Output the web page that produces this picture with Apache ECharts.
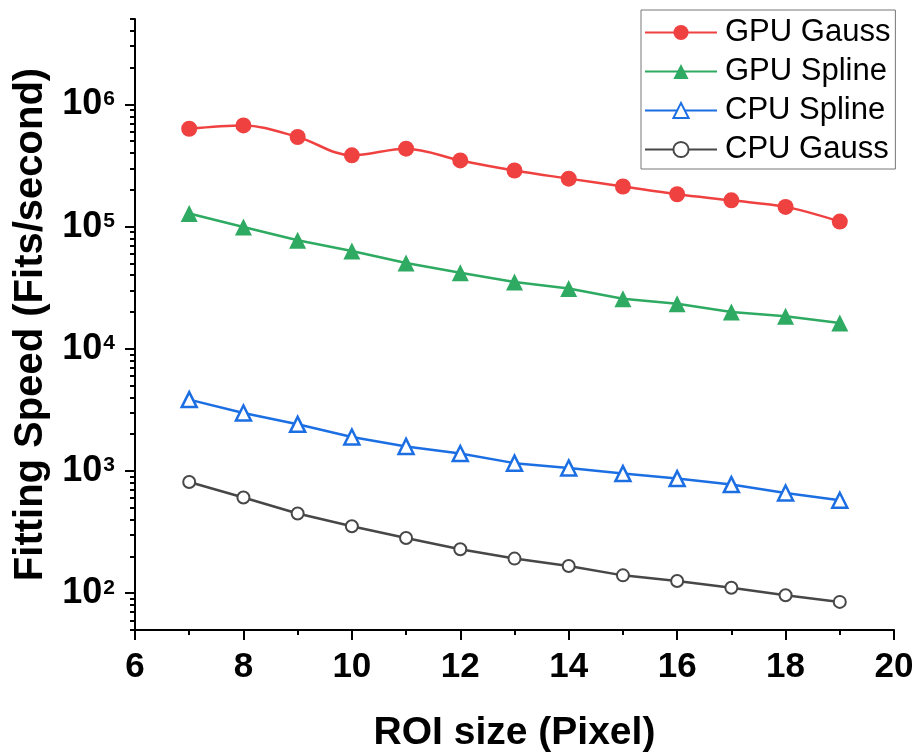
<!DOCTYPE html>
<html>
<head>
<meta charset="utf-8">
<script src="https://cdn.jsdelivr.net/npm/echarts@6/dist/echarts.min.js"></script>
<style>
  html, body { margin: 0; padding: 0; background: #fff; }
  #chart { width: 918px; height: 754px; }
</style>
</head>
<body>
<div id="chart"></div>
<script>
// ROI size (pixel)
const roiSize = [7, 8, 9, 10, 11, 12, 13, 14, 15, 16, 17, 18, 19];

// fitting speed, fits per second
const gpuGauss = [632000, 673000, 541000, 383000, 434000, 348000, 288000, 247000, 213000, 184000, 164000, 145000, 110000];
const gpuSpline = [128000, 99300, 77300, 63100, 50400, 42000, 35200, 31100, 25700, 23400, 20000, 18500, 16300];
const cpuSpline = [3840, 2980, 2410, 1900, 1590, 1390, 1160, 1060, 953, 867, 774, 661, 577];
const cpuGauss = [813, 607, 449, 353, 283, 229, 192, 167, 140, 126, 111, 96.3, 84.9];

// y axis ticks
const majorTicks = [1e2, 1e3, 1e4, 1e5, 1e6];
const minorTicks = [50, 60, 70, 80, 90,
  200, 300, 400, 500, 600, 700, 800, 900,
  2e3, 3e3, 4e3, 5e3, 6e3, 7e3, 8e3, 9e3,
  2e4, 3e4, 4e4, 5e4, 6e4, 7e4, 8e4, 9e4,
  2e5, 3e5, 4e5, 5e5, 6e5, 7e5, 8e5, 9e5,
  2e6, 3e6, 4e6, 5e6];

const FONT = '"Liberation Sans", Arial, sans-serif';

function pairs(ys) {
  return roiSize.map(function (x, i) { return [x, ys[i]]; });
}

const chart = echarts.init(document.getElementById('chart'));
chart.setOption({
  backgroundColor: '#fff',
  animation: false,
  grid: {
    left: 135, right: 24, top: 19, bottom: 124,
    containLabel: false,
    outerBoundsMode: 'none'
  },
  legend: {
    orient: 'vertical',
    left: 641,
    top: 10,
    padding: [7, 5, 4, 3],
    itemWidth: 72,
    itemHeight: 19,
    itemGap: 8,
    borderColor: '#777',
    borderWidth: 1,
    textStyle: {
      fontFamily: FONT,
      fontSize: 31,
      lineHeight: 30,
      color: '#000',
      padding: [0, 0, 0, 3]
    },
    data: ['GPU Gauss', 'GPU Spline', 'CPU Spline', 'CPU Gauss']
  },
  xAxis: {
    type: 'value',
    min: 6,
    max: 20,
    interval: 2,
    name: 'ROI size (Pixel)',
    nameLocation: 'middle',
    nameGap: 84,
    nameTextStyle: { fontFamily: FONT, fontSize: 39, fontWeight: 'bold', color: '#000' },
    axisLine: { lineStyle: { color: '#000', width: 2 } },
    axisTick: { inside: false, length: 10, lineStyle: { color: '#000', width: 2 } },
    minorTick: { show: true, splitNumber: 2, length: 5, lineStyle: { color: '#000', width: 2 } },
    axisLabel: { fontFamily: FONT, fontSize: 35, fontWeight: 'bold', color: '#000', margin: 20 },
    splitLine: { show: false },
    minorSplitLine: { show: false }
  },
  yAxis: [
    {
      type: 'log',
      logBase: 10,
      min: 50,
      max: 5e6,
      name: 'Fitting Speed (Fits/second)',
      nameLocation: 'middle',
      nameRotate: 90,
      nameGap: 80,
      nameTextStyle: { fontFamily: FONT, fontSize: 40, fontWeight: 'bold', color: '#000' },
      axisLine: { show: true, lineStyle: { color: '#000', width: 2 } },
      axisTick: { show: true, inside: false, length: 10, customValues: majorTicks, lineStyle: { color: '#000', width: 2 } },
      axisLabel: {
        show: true,
        customValues: majorTicks,
        margin: 20,
        color: '#000',
        formatter: function (v) {
          return '{b|10}{s|' + Math.round(Math.log10(v)) + '}';
        },
        rich: {
          b: { fontFamily: FONT, fontSize: 36, fontWeight: 'bold', color: '#000', lineHeight: 40 },
          s: { fontFamily: FONT, fontSize: 21, fontWeight: 'bold', color: '#000', verticalAlign: 'top', lineHeight: 21, padding: [4, 0, 0, 1] }
        }
      },
      splitLine: { show: false }
    },
    {
      type: 'log',
      logBase: 10,
      min: 50,
      max: 5e6,
      position: 'left',
      axisLine: { show: false },
      axisTick: { show: true, inside: false, length: 5, customValues: minorTicks, lineStyle: { color: '#000', width: 2 } },
      axisLabel: { show: false },
      splitLine: { show: false }
    }
  ],
  series: [
    {
      name: 'GPU Gauss',
      type: 'line',
      yAxisIndex: 0,
      data: pairs(gpuGauss),
      smooth: 0.35,
      symbol: 'circle',
      symbolSize: 16,
      lineStyle: { color: '#F04141', width: 2.5 },
      itemStyle: { color: '#F04141' }
    },
    {
      name: 'GPU Spline',
      type: 'line',
      yAxisIndex: 0,
      data: pairs(gpuSpline),
      symbol: 'triangle',
      symbolSize: 17,
      lineStyle: { color: '#2EAA62', width: 2.5 },
      itemStyle: { color: '#2EAA62' }
    },
    {
      name: 'CPU Spline',
      type: 'line',
      yAxisIndex: 0,
      data: pairs(cpuSpline),
      symbol: 'triangle',
      symbolSize: 15,
      lineStyle: { color: '#1C6FE3', width: 2.5 },
      itemStyle: { color: '#fff', borderColor: '#1C6FE3', borderWidth: 2.5 }
    },
    {
      name: 'CPU Gauss',
      type: 'line',
      yAxisIndex: 0,
      data: pairs(cpuGauss),
      symbol: 'circle',
      symbolSize: 12,
      lineStyle: { color: '#474747', width: 2.5 },
      itemStyle: { color: '#fff', borderColor: '#474747', borderWidth: 2 }
    }
  ]
});
</script>
</body>
</html>
